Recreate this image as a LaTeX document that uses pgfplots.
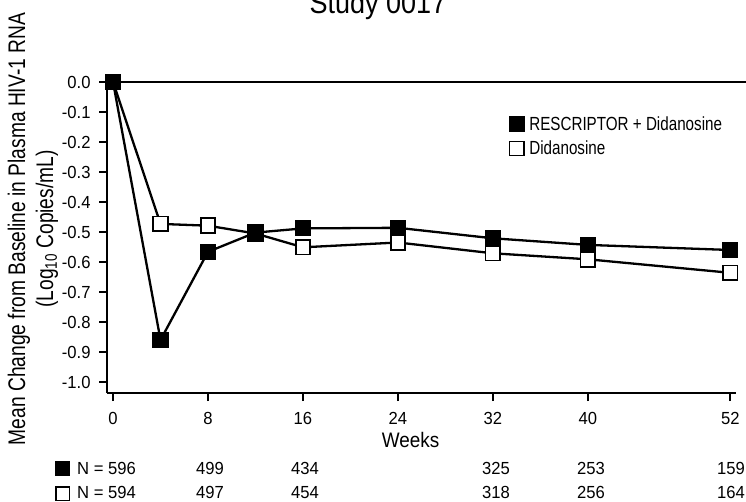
\documentclass[border=0pt]{standalone}
\usepackage{fontspec}
\setmainfont{Liberation Sans}[FakeStretch=0.8]
\newfontfamily\numfont{Liberation Sans}[FakeStretch=0.95]
\newfontfamily\titlefont{Liberation Sans}[FakeStretch=0.9]
\usepackage{pgfplots}
\pgfplotsset{compat=1.18}
\begin{document}
\begin{tikzpicture}
% title (top part is cut off as in the reference)
\node[anchor=base, font=\titlefont\fontsize{30}{30}\selectfont] at (378pt,-14pt) {Study 0017};
% y label
\node[rotate=90, align=center, font=\fontsize{24}{28}\selectfont] at (33pt,-229pt)
  {Mean Change from Baseline in Plasma HIV-1 RNA\\(Log\textsubscript{10} Copies/mL)};
\begin{axis}[
  at={(107.1pt,-82pt)}, anchor=north west,
  x=11.87pt, y=300pt,
  xmin=-0.5, xmax=52.5, ymin=-1.037, ymax=0,
  enlargelimits=false, clip=false,
  axis x line=bottom, axis y line=left,
  axis line style={line width=2.6pt, -},
  xtick={0,8,16,24,32,40,52},
  ytick={0,-0.1,-0.2,-0.3,-0.4,-0.5,-0.6,-0.7,-0.8,-0.9,-1.0},
  yticklabels={0.0,-0.1,-0.2,-0.3,-0.4,-0.5,-0.6,-0.7,-0.8,-0.9,-1.0},
  tick style={line width=2.4pt, black},
  major tick length=8pt, tick align=outside,
  ticklabel style={font=\numfont\fontsize{17.5}{17.5}\selectfont},
  xticklabel style={yshift=-8pt},
  yticklabel style={xshift=-5pt},
  /pgf/number format/assume math mode=true,
  xlabel={Weeks},
  xlabel style={font=\titlefont\fontsize{21}{21}\selectfont, inner sep=0pt, yshift=-4pt, xshift=-11pt},
  legend style={at={(0.639,0.896)}, anchor=north west, draw=none, fill=none,
    font=\fontsize{19}{22}\selectfont, inner sep=0pt, row sep=5pt,
    nodes={inner sep=2pt}, column sep=3pt},
  legend cell align=left,
]
\addplot[black, line width=2.3pt, forget plot] coordinates {(-0.5,0) (53.4,0)};
\addplot[black, line width=2.3pt, mark=square*, mark size=7.3pt,
  mark options={fill=white, line width=1.8pt}, forget plot] coordinates {
  (0,0) (4,-0.473) (8,-0.479) (12,-0.505) (16,-0.551) (24,-0.535) (32,-0.571) (40,-0.591) (52,-0.636)};
\addplot[black, line width=2.3pt, mark=square*, mark size=7.6pt,
  mark options={fill=black, line width=1pt}, forget plot] coordinates {
  (0,0) (4,-0.86) (8,-0.566) (12,-0.502) (16,-0.488) (24,-0.486) (32,-0.521) (40,-0.543) (52,-0.56)};
\addlegendimage{only marks, mark=square*, mark size=7.5pt, mark options={fill=black, line width=0.8pt}, black}
\addlegendentry{RESCRIPTOR + Didanosine}
\addlegendimage{only marks, mark=square*, mark size=7.2pt, mark options={fill=white, line width=1.4pt}, black}
\addlegendentry{Didanosine}
\end{axis}
% N table
\node[anchor=base west, inner sep=0pt, font=\numfont\fontsize{17.5}{17.5}\selectfont] at (55pt,-474pt)
  {\raisebox{-1.5pt}{\rule{15pt}{15pt}}\hspace{7pt}N = 596};
\node[anchor=base west, inner sep=0pt, font=\numfont\fontsize{17.5}{17.5}\selectfont] at (55pt,-498pt)
  {\raisebox{-1.5pt}{\setlength{\fboxsep}{0pt}\setlength{\fboxrule}{1.5pt}\fbox{\rule{0pt}{12pt}\hspace{12pt}}}\hspace{7pt}N = 594};
\foreach \x/\a/\b in {210/499/497, 305/434/454, 496/325/318, 591/253/256, 731/159/164}{
  \node[anchor=base, font=\numfont\fontsize{17.5}{17.5}\selectfont] at (\x pt,-474pt) {\a};
  \node[anchor=base, font=\numfont\fontsize{17.5}{17.5}\selectfont] at (\x pt,-498pt) {\b};
}
\pgfresetboundingbox
\useasboundingbox (0pt,-502pt) rectangle (746pt,0pt);
\end{tikzpicture}
\end{document}
